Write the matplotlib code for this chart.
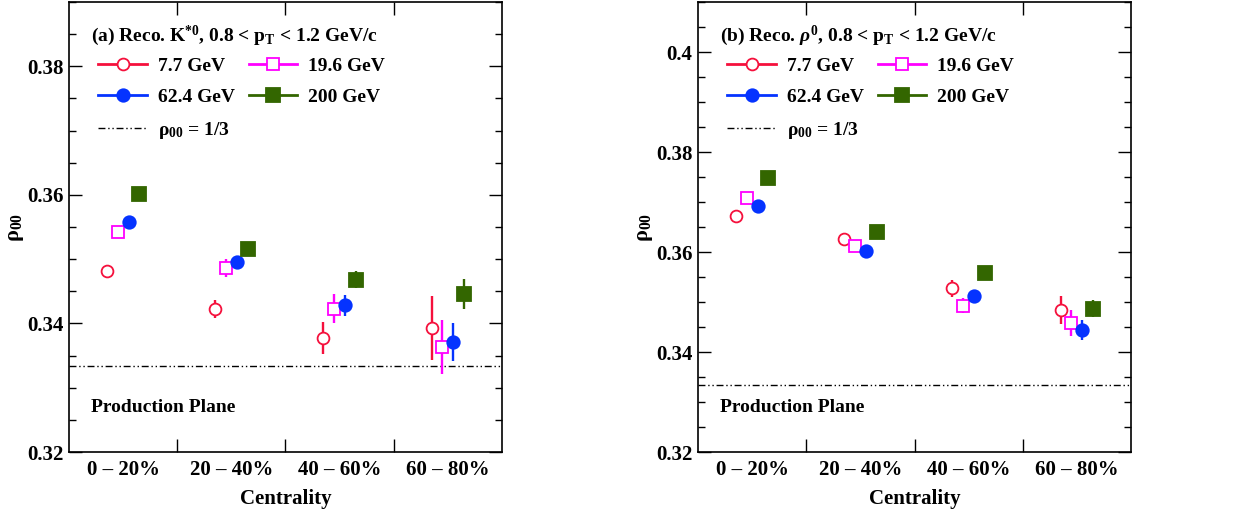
import matplotlib.pyplot as plt
from matplotlib.lines import Line2D

plt.rcParams["font.family"] = ["Liberation Serif", "DejaVu Serif"]
plt.rcParams["font.weight"] = "bold"
plt.rcParams["mathtext.fontset"] = "custom"
plt.rcParams["mathtext.rm"] = "Liberation Serif:bold"
plt.rcParams["mathtext.bf"] = "Liberation Serif:bold"
plt.rcParams["mathtext.it"] = "Liberation Serif:bold:italic"

centrality = ["0 – 20%", "20 – 40%", "40 – 60%", "60 – 80%"]
energies = ["7.7 GeV", "19.6 GeV", "62.4 GeV", "200 GeV"]
offsets = [-0.15, -0.05, 0.05, 0.15]

# panel (a): K*0
kstar_val = [
    [0.3481, 0.3422, 0.3377, 0.3393],
    [0.3543, 0.3486, 0.3423, 0.3363],
    [0.3558, 0.3495, 0.3428, 0.3371],
    [0.3601, 0.3516, 0.3468, 0.3446],
]
kstar_err = [
    [0.0008, 0.0014, 0.0025, 0.0050],
    [0.0007, 0.0014, 0.0023, 0.0042],
    [0.0006, 0.0008, 0.0017, 0.0030],
    [0.0005, 0.0006, 0.0013, 0.0023],
]

# panel (b): rho0
rho_val = [
    [0.3673, 0.3627, 0.3528, 0.3485],
    [0.3709, 0.3613, 0.3493, 0.3458],
    [0.3693, 0.3602, 0.3512, 0.3445],
    [0.3748, 0.3641, 0.3558, 0.3487],
]
rho_err = [
    [0.0007, 0.0007, 0.0017, 0.0028],
    [0.0007, 0.0007, 0.0015, 0.0026],
    [0.0004, 0.0004, 0.0007, 0.0020],
    [0.0004, 0.0004, 0.0006, 0.0017],
]

colors = ["#f5103c", "#ff00ff", "#0533ff", "#336600"]
markers = ["o", "s", "o", "s"]
filled = [False, False, True, True]
msizes = [8.5, 8.5, 9.0, 9.5]
dashdotdot = (0, (5, 2, 1, 2, 1, 2))


def draw_panel(ax, vals, errs, title, ylim, yticks):
    xs = [i + 0.5 for i in range(len(centrality))]
    handles = []
    for k in range(len(energies)):
        x = [v + offsets[k] for v in xs]
        face = colors[k] if filled[k] else "white"
        ax.errorbar(x, vals[k], yerr=errs[k], fmt=markers[k], color=colors[k],
                    mfc=face, mec=colors[k], ms=msizes[k], mew=1.3,
                    elinewidth=1.7, capsize=0, zorder=3)
        handles.append(Line2D([], [], color=colors[k], lw=2, marker=markers[k],
                              mfc=face, mec=colors[k], ms=msizes[k], mew=1.3,
                              label=energies[k]))
    ax.axhline(1 / 3, color="black", lw=1.0, linestyle=dashdotdot, zorder=2)
    ref = Line2D([], [], color="black", lw=1.0, linestyle=dashdotdot,
                 label=r"$\mathrm{\rho}_{00}$ = 1/3")
    blank = Line2D([], [], linestyle="none", label=" ")
    ax.legend(handles=[handles[0], handles[2], ref, handles[1], handles[3], blank],
              ncol=2, loc="upper left", bbox_to_anchor=(0.05, 0.895),
              frameon=False, fontsize=14, handlelength=2.5, handletextpad=0.57,
              columnspacing=0.7, labelspacing=0.7, borderaxespad=0)
    ax.text(0.05, 0.925, title, transform=ax.transAxes, fontsize=14,
            fontweight="bold", ha="left", va="center")
    ax.text(0.05, 0.1, "Production Plane", transform=ax.transAxes,
            fontsize=14, fontweight="bold", ha="left", va="center")

    ax.set_xlim(0, 4)
    ax.set_ylim(*ylim)
    ax.set_xticks(xs)
    ax.set_xticklabels(centrality, fontsize=15, fontweight="bold")
    ax.set_xticks([1, 2, 3], minor=True)
    ax.set_yticks(yticks)
    ax.set_yticklabels([f"{t:g}" for t in yticks], fontsize=15, fontweight="bold")
    nminor = int(round((ylim[1] - ylim[0]) / 0.005))
    ax.set_yticks([ylim[0] + 0.005 * i for i in range(nminor + 1)], minor=True)
    ax.tick_params(axis="x", which="major", length=0, pad=6)
    ax.tick_params(axis="x", which="minor", direction="in", length=9.5,
                   top=True, bottom=True, width=1.0)
    ax.tick_params(axis="y", which="major", direction="in", length=9.5,
                   left=True, right=True, width=1.0, pad=4)
    ax.tick_params(axis="y", which="minor", direction="in", length=5,
                   left=True, right=True, width=1.0)
    for s in ax.spines.values():
        s.set_linewidth(1.2)
    ax.set_xlabel("Centrality", fontsize=15, fontweight="bold", labelpad=6)
    ax.set_ylabel(r"$\mathrm{\rho}_{00}$", fontsize=16, labelpad=1)


fig = plt.figure(figsize=(12.37, 5.14), dpi=100)
ax1 = fig.add_axes([0.0558, 0.1206, 0.350, 0.8754])
ax2 = fig.add_axes([0.5643, 0.1206, 0.350, 0.8754])

draw_panel(ax1, kstar_val, kstar_err,
           r"(a) Reco. K$^{*0}$, 0.8 < p$_{\rm T}$ < 1.2 GeV/c",
           (0.32, 0.39), [0.32, 0.34, 0.36, 0.38])
draw_panel(ax2, rho_val, rho_err,
           r"(b) Reco. $\mathit{\rho}^{0}$, 0.8 < p$_{\rm T}$ < 1.2 GeV/c",
           (0.32, 0.41), [0.32, 0.34, 0.36, 0.38, 0.40])

fig.savefig("out.png", dpi=100)
